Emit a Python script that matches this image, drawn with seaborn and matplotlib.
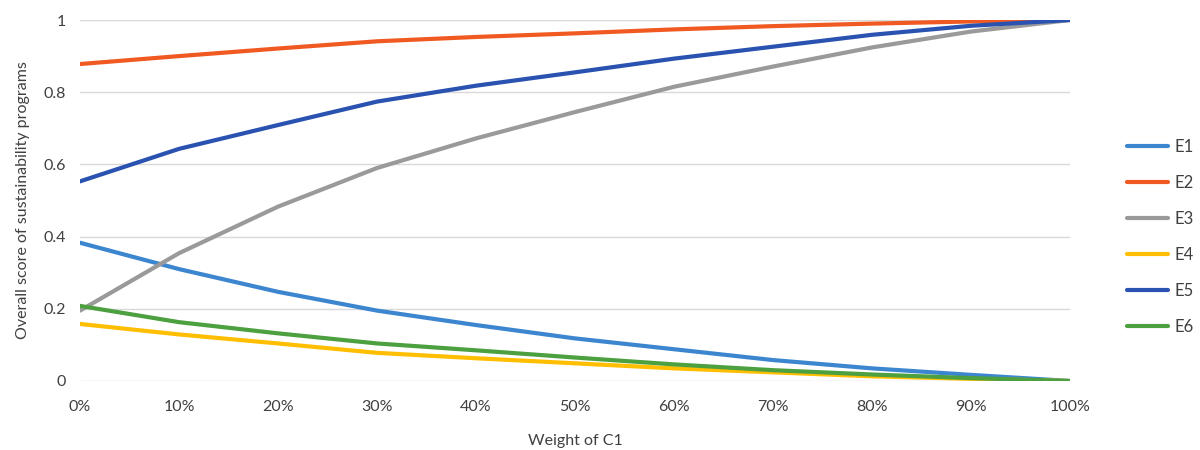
import matplotlib
matplotlib.use("Agg")
import matplotlib.pyplot as plt
import seaborn as sns
import pandas as pd

# Weight of criterion C1 (percent) and overall scores of each programme
weights = [0, 10, 20, 30, 40, 50, 60, 70, 80, 90, 100]
tick_labels = [f"{w}%" for w in weights]
series_names = ["E1", "E2", "E3", "E4", "E5", "E6"]

e1 = [0.383, 0.310, 0.247, 0.195, 0.155, 0.118, 0.088, 0.058, 0.035, 0.017, 0.0]
e2 = [0.878, 0.900, 0.921, 0.941, 0.953, 0.963, 0.974, 0.983, 0.990, 0.996, 1.0]
e3 = [0.195, 0.354, 0.483, 0.590, 0.672, 0.745, 0.815, 0.871, 0.924, 0.968, 1.0]
e4 = [0.158, 0.129, 0.104, 0.078, 0.063, 0.049, 0.035, 0.024, 0.013, 0.006, 0.0]
e5 = [0.553, 0.643, 0.709, 0.774, 0.818, 0.855, 0.893, 0.926, 0.959, 0.984, 1.0]
e6 = [0.208, 0.163, 0.132, 0.104, 0.085, 0.065, 0.046, 0.030, 0.018, 0.008, 0.0]

colors = ["#3C86D0", "#F05A22", "#9A9A9A", "#FFBE00", "#2A52B0", "#4CA040"]

df = pd.DataFrame({
    "weight": weights * 6,
    "score": e1 + e2 + e3 + e4 + e5 + e6,
    "series": sum([[n] * len(weights) for n in series_names], []),
})

sns.set_theme(style="white")
plt.rcParams["font.family"] = ["Lato", "DejaVu Sans"]

fig = plt.figure(figsize=(12, 4.5), dpi=100)
ax = fig.add_axes([80 / 1200, 1 - 381 / 450, 990 / 1200, 361 / 450])

sns.lineplot(data=df, x="weight", y="score", hue="series",
             hue_order=series_names, palette=colors, linewidth=3,
             ax=ax, legend=True)

ax.set_xlim(0, 100)
ax.set_ylim(0, 1)
ax.set_xticks(weights)
ax.set_xticklabels(tick_labels)
ax.set_yticks([0, 0.2, 0.4, 0.6, 0.8, 1.0])
ax.set_yticklabels(["0", "0.2", "0.4", "0.6", "0.8", "1"])
ax.tick_params(axis="both", length=0, labelsize=11.5, colors="#404040")
ax.tick_params(axis="x", pad=14)
ax.tick_params(axis="y", pad=10)
ax.grid(axis="y", color="#D9D9D9", linewidth=1)
ax.set_axisbelow(True)
for s in ax.spines.values():
    s.set_visible(False)

ax.set_xlabel("Weight of C1", fontsize=11.5, color="#404040", labelpad=14)
ax.set_ylabel("Overall score of sustainability programs", fontsize=11.5,
              color="#404040", labelpad=10)

leg = ax.legend(loc="center left", bbox_to_anchor=(1.042, 0.398), frameon=False,
                fontsize=12, handlelength=2.5, handletextpad=0.35,
                labelspacing=1.2)
for t in leg.get_texts():
    t.set_color("#404040")
for h in leg.get_lines():
    h.set_linewidth(3)

fig.savefig("out.png", dpi=100, facecolor="white")
